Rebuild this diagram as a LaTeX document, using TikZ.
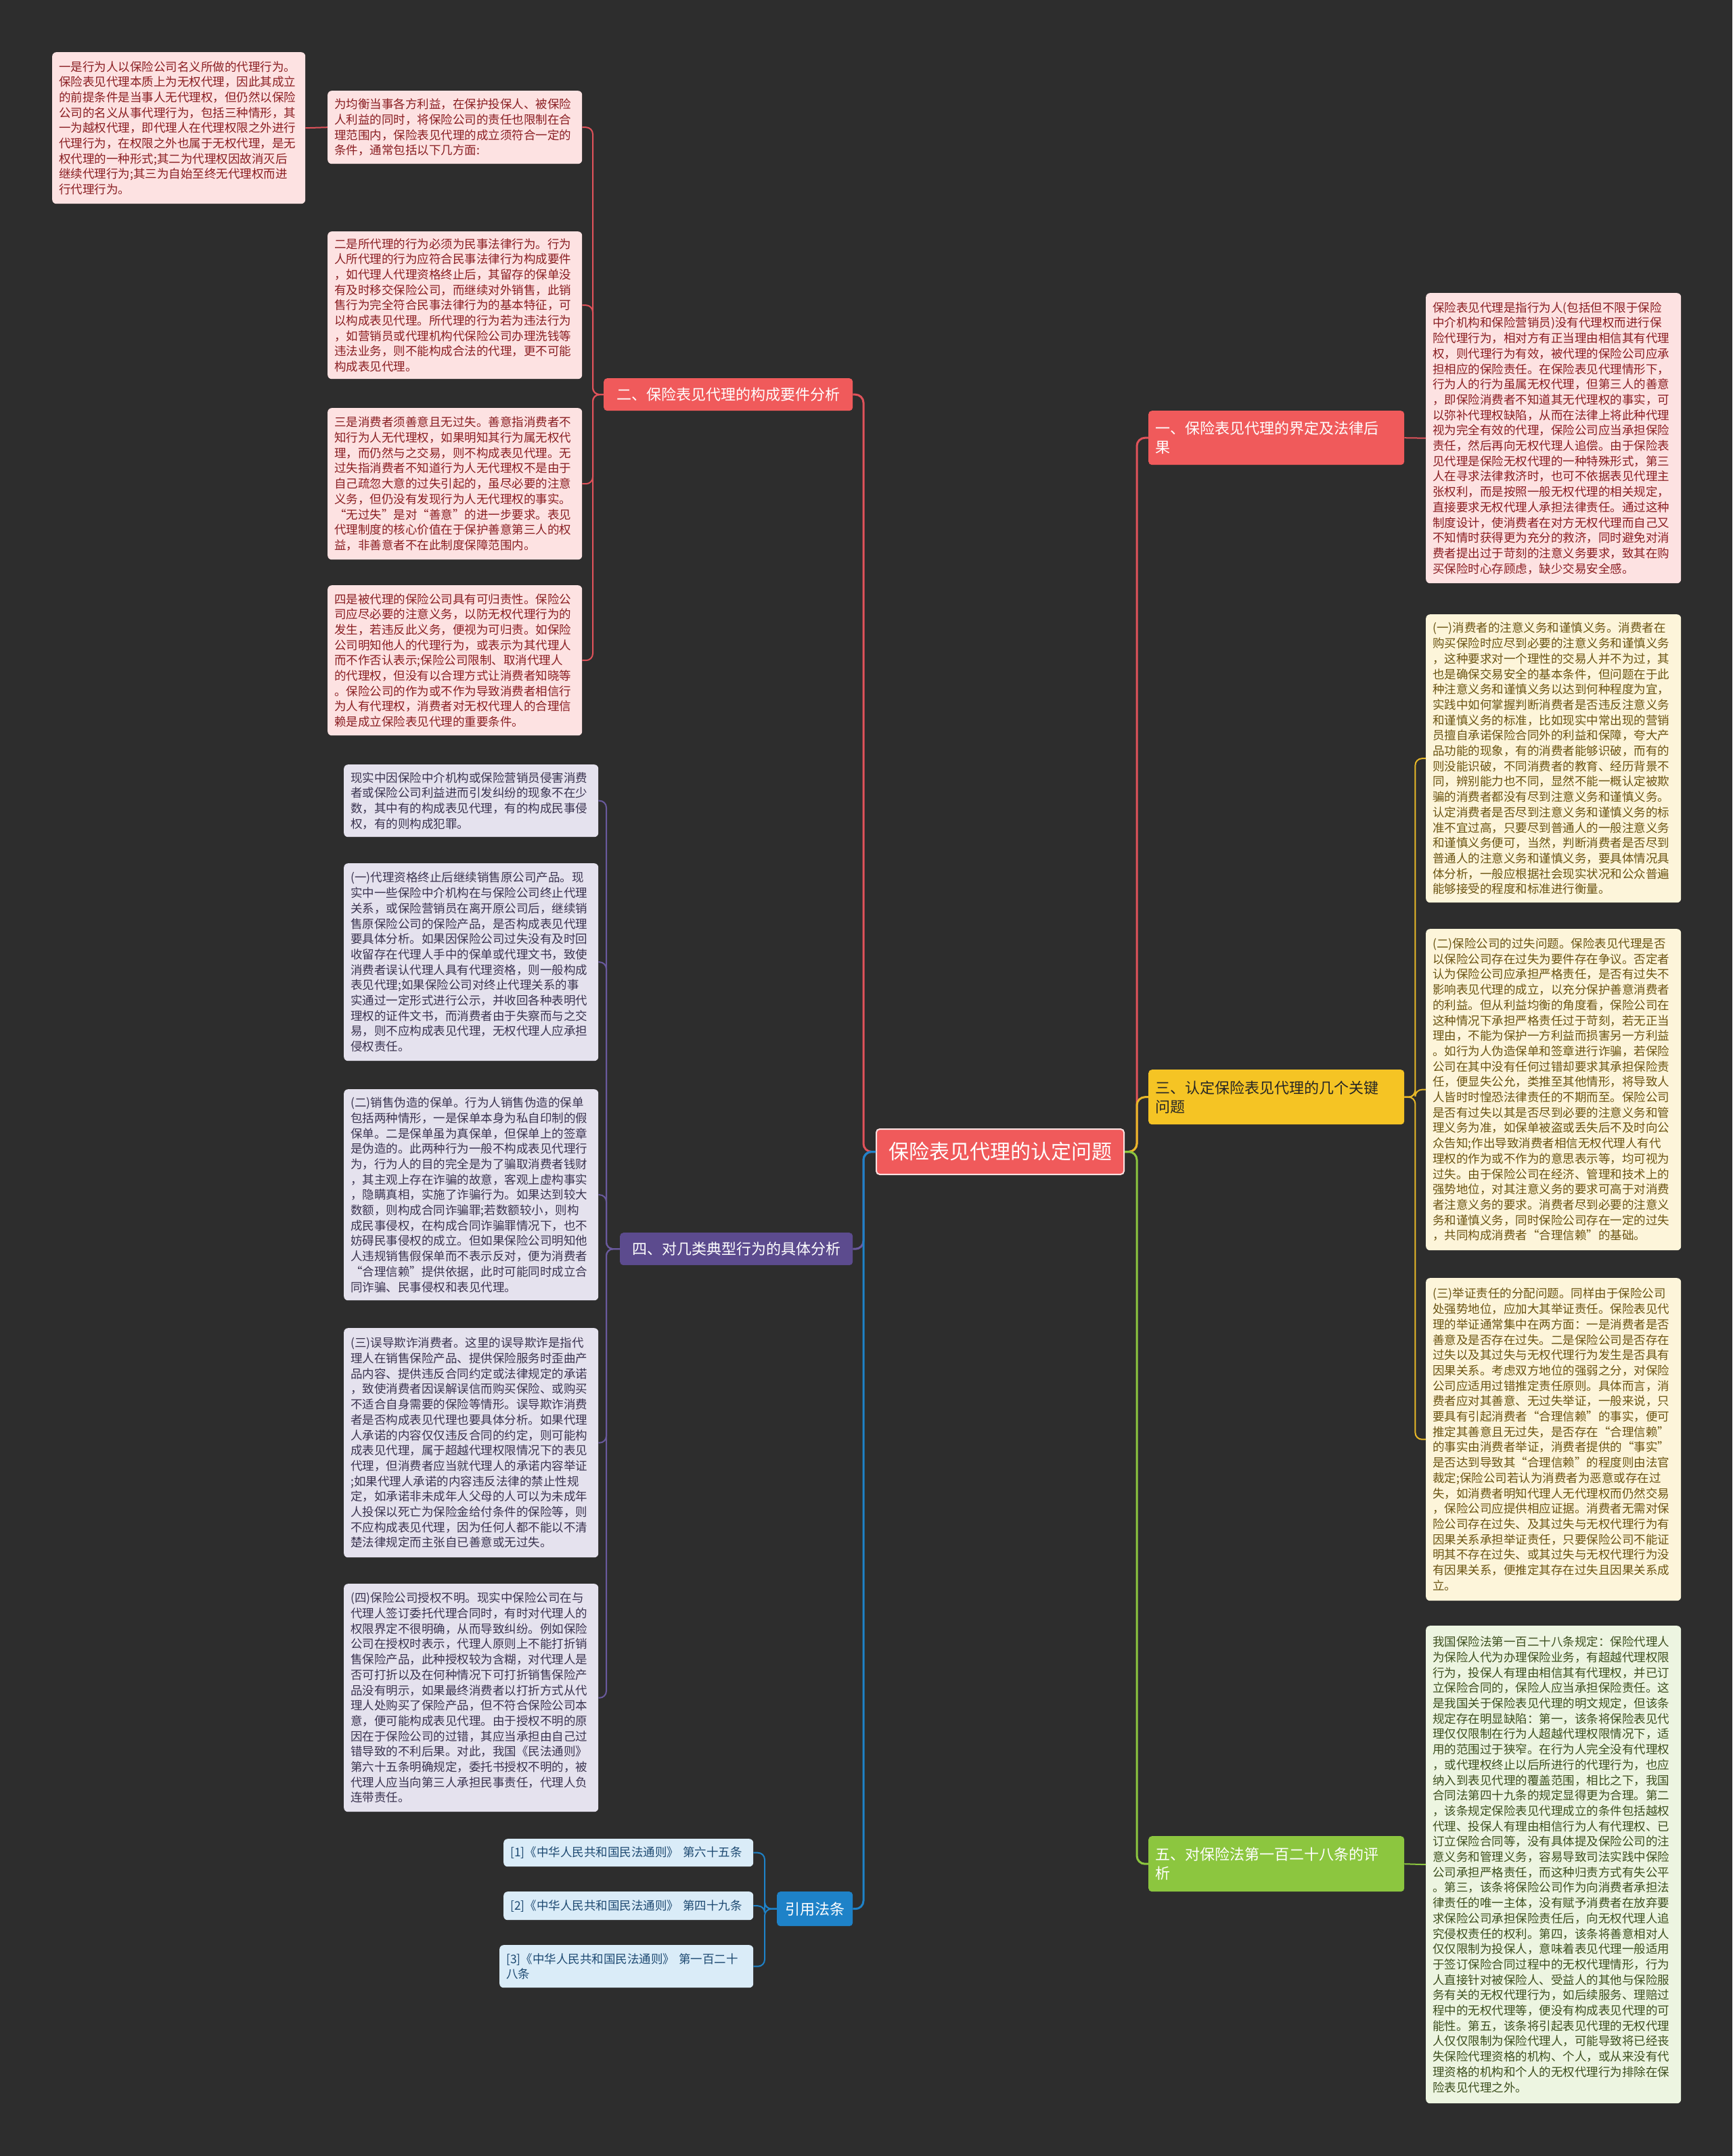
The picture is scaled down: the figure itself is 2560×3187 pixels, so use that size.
\documentclass[tikz,border=0pt]{standalone}
\usepackage{fontspec}
\setmainfont{Noto Sans CJK SC}
\definecolor{bg}{HTML}{2D2D2D}
\definecolor{redB}{HTML}{F05A5B}
\definecolor{redL}{HTML}{FDE2E2}
\definecolor{redT}{HTML}{8A1E22}
\definecolor{redLn}{HTML}{E0525A}
\definecolor{purB}{HTML}{5C4B8E}
\definecolor{purL}{HTML}{E5E2EE}
\definecolor{purT}{HTML}{3A3350}
\definecolor{purLn}{HTML}{6A5A9E}
\definecolor{bluB}{HTML}{1E82C8}
\definecolor{bluL}{HTML}{DAECF8}
\definecolor{bluT}{HTML}{1E4A72}
\definecolor{yelB}{HTML}{F5C424}
\definecolor{yelL}{HTML}{FDF5DA}
\definecolor{yelT}{HTML}{6B5412}
\definecolor{yelLn}{HTML}{E8B828}
\definecolor{grnB}{HTML}{8CC63F}
\definecolor{grnL}{HTML}{EDF5E1}
\definecolor{grnT}{HTML}{3D4F1E}
\begin{document}
\begin{tikzpicture}[x=1pt,y=-1pt,
  box/.style={anchor=north west, rounded corners=6pt, inner xsep=10pt, inner ysep=0pt,
    align=left, text width=356pt, font=\fontsize{17.5}{22.7}\selectfont},
  leafR/.style={box, fill=redL, text=redT},
  leafP/.style={box, fill=purL, text=purT},
  leafB/.style={box, fill=bluL, text=bluT},
  leafY/.style={box, fill=yelL, text=yelT},
  leafG/.style={box, fill=grnL, text=grnT},
  br/.style={anchor=north west, rounded corners=5pt, inner sep=0pt, align=center,
    font=\fontsize{22}{27}\selectfont},
  brtwo/.style={anchor=north west, rounded corners=5pt, inner xsep=10pt, inner ysep=0pt,
    align=left, text width=358pt, font=\fontsize{22}{28}\selectfont},
  main/.style={line width=3pt, rounded corners=12pt},
  sub/.style={line width=2pt, rounded corners=10pt},
]
\useasboundingbox (0,0) rectangle (2560,3187);
\fill[bg] (0,0) rectangle (2560,3187);

% ---------- center ----------
\node[br, fill=redB, draw=redL, line width=2pt, text=white, minimum width=366pt, minimum height=67pt,
  font=\fontsize{30}{36}\selectfont] (ctr) at (1294,1668) {保险表见代理的认定问题};

% ---------- branches ----------
\node[br, fill=redB, text=white, minimum width=368pt, minimum height=48pt] (b2) at (892,559) {二、保险表见代理的构成要件分析};
\node[br, fill=purB, text=white, minimum width=344pt, minimum height=48pt] (b4) at (916,1822) {四、对几类典型行为的具体分析};
\node[br, fill=bluB, text=white, minimum width=112pt, minimum height=51pt] (bc) at (1148,2796) {引用法条};
\node[brtwo, fill=redB, text=white, minimum height=80pt] (b1) at (1697,607) {一、保险表见代理的界定及法律后\\果};
\node[brtwo, fill=yelB, text=black!85, minimum height=81pt] (b3) at (1697,1581) {三、认定保险表见代理的几个关键\\问题};
\node[brtwo, fill=grnB, text=white, minimum height=82pt] (b5) at (1697,2714) {五、对保险法第一百二十八条的评\\析};

% ---------- red left leaves ----------
\node[leafR, text width=354pt, minimum height=224pt] (a0) at (77,77) {一是行为人以保险公司名义所做的代理行为。\\保险表见代理本质上为无权代理，因此其成立\\的前提条件是当事人无代理权，但仍然以保险\\公司的名义从事代理行为，包括三种情形，其\\一为越权代理，即代理人在代理权限之外进行\\代理行为，在权限之外也属于无权代理，是无\\权代理的一种形式;其二为代理权因故消灭后\\继续代理行为;其三为自始至终无代理权而进\\行代理行为。};
\node[leafR, minimum height=108pt] (a1) at (484,134) {为均衡当事各方利益，在保护投保人、被保险\\人利益的同时，将保险公司的责任也限制在合\\理范围内，保险表见代理的成立须符合一定的\\条件，通常包括以下几方面:};
\node[leafR, minimum height=218pt] (a2) at (484,342) {二是所代理的行为必须为民事法律行为。行为\\人所代理的行为应符合民事法律行为构成要件\\，如代理人代理资格终止后，其留存的保单没\\有及时移交保险公司，而继续对外销售，此销\\售行为完全符合民事法律行为的基本特征，可\\以构成表见代理。所代理的行为若为违法行为\\，如营销员或代理机构代保险公司办理洗钱等\\违法业务，则不能构成合法的代理，更不可能\\构成表见代理。};
\node[leafR, minimum height=224pt] (a3) at (484,603) {三是消费者须善意且无过失。善意指消费者不\\知行为人无代理权，如果明知其行为属无权代\\理，而仍然与之交易，则不构成表见代理。无\\过失指消费者不知道行为人无代理权不是由于\\自己疏忽大意的过失引起的，虽尽必要的注意\\义务，但仍没有发现行为人无代理权的事实。\\“无过失”是对“善意”的进一步要求。表见\\代理制度的核心价值在于保护善意第三人的权\\益，非善意者不在此制度保障范围内。};
\node[leafR, minimum height=222pt] (a4) at (484,865) {四是被代理的保险公司具有可归责性。保险公\\司应尽必要的注意义务，以防无权代理行为的\\发生，若违反此义务，便视为可归责。如保险\\公司明知他人的代理行为，或表示为其代理人\\而不作否认表示;保险公司限制、取消代理人\\的代理权，但没有以合理方式让消费者知晓等\\。保险公司的作为或不作为导致消费者相信行\\为人有代理权，消费者对无权代理人的合理信\\赖是成立保险表见代理的重要条件。};

% ---------- purple leaves ----------
\node[leafP, minimum height=107pt] (p1) at (508,1130) {现实中因保险中介机构或保险营销员侵害消费\\者或保险公司利益进而引发纠纷的现象不在少\\数，其中有的构成表见代理，有的构成民事侵\\权，有的则构成犯罪。};
\node[leafP, minimum height=292pt] (p2) at (508,1276) {(一)代理资格终止后继续销售原公司产品。现\\实中一些保险中介机构在与保险公司终止代理\\关系，或保险营销员在离开原公司后，继续销\\售原保险公司的保险产品，是否构成表见代理\\要具体分析。如果因保险公司过失没有及时回\\收留存在代理人手中的保单或代理文书，致使\\消费者误认代理人具有代理资格，则一般构成\\表见代理;如果保险公司对终止代理关系的事\\实通过一定形式进行公示，并收回各种表明代\\理权的证件文书，而消费者由于失察而与之交\\易，则不应构成表见代理，无权代理人应承担\\侵权责任。};
\node[leafP, minimum height=312pt] (p3) at (508,1610) {(二)销售伪造的保单。行为人销售伪造的保单\\包括两种情形，一是保单本身为私自印制的假\\保单。二是保单虽为真保单，但保单上的签章\\是伪造的。此两种行为一般不构成表见代理行\\为，行为人的目的完全是为了骗取消费者钱财\\，其主观上存在诈骗的故意，客观上虚构事实\\，隐瞒真相，实施了诈骗行为。如果达到较大\\数额，则构成合同诈骗罪;若数额较小，则构\\成民事侵权，在构成合同诈骗罪情况下，也不\\妨碍民事侵权的成立。但如果保险公司明知他\\人违规销售假保单而不表示反对，便为消费者\\“合理信赖”提供依据，此时可能同时成立合\\同诈骗、民事侵权和表见代理。};
\node[leafP, minimum height=339pt] (p4) at (508,1963) {(三)误导欺诈消费者。这里的误导欺诈是指代\\理人在销售保险产品、提供保险服务时歪曲产\\品内容、提供违反合同约定或法律规定的承诺\\，致使消费者因误解误信而购买保险、或购买\\不适合自身需要的保险等情形。误导欺诈消费\\者是否构成表见代理也要具体分析。如果代理\\人承诺的内容仅仅违反合同的约定，则可能构\\成表见代理，属于超越代理权限情况下的表见\\代理，但消费者应当就代理人的承诺内容举证\\;如果代理人承诺的内容违反法律的禁止性规\\定，如承诺非未成年人父母的人可以为未成年\\人投保以死亡为保险金给付条件的保险等，则\\不应构成表见代理，因为任何人都不能以不清\\楚法律规定而主张自已善意或无过失。};
\node[leafP, minimum height=337pt] (p5) at (508,2341) {(四)保险公司授权不明。现实中保险公司在与\\代理人签订委托代理合同时，有时对代理人的\\权限界定不很明确，从而导致纠纷。例如保险\\公司在授权时表示，代理人原则上不能打折销\\售保险产品，此种授权较为含糊，对代理人是\\否可打折以及在何种情况下可打折销售保险产\\品没有明示，如果最终消费者以打折方式从代\\理人处购买了保险产品，但不符合保险公司本\\意，便可能构成表见代理。由于授权不明的原\\因在于保险公司的过错，其应当承担由自己过\\错导致的不利后果。对此，我国《民法通则》\\第六十五条明确规定，委托书授权不明的，被\\代理人应当向第三人承担民事责任，代理人负\\连带责任。};

% ---------- blue leaves ----------
\node[leafB, text width=349pt, minimum height=41pt] (c1) at (744,2718) {[1]《中华人民共和国民法通则》 第六十五条};
\node[leafB, text width=349pt, minimum height=42pt] (c2) at (744,2796) {[2]《中华人民共和国民法通则》 第四十九条};
\node[leafB, text width=355pt, minimum height=63pt] (c3) at (738,2875) {[3]《中华人民共和国民法通则》 第一百二十\\八条};

% ---------- right leaves ----------
\node[leafR, text width=357pt, minimum height=429pt] (r1) at (2107,433) {保险表见代理是指行为人(包括但不限于保险\\中介机构和保险营销员)没有代理权而进行保\\险代理行为，相对方有正当理由相信其有代理\\权，则代理行为有效，被代理的保险公司应承\\担相应的保险责任。在保险表见代理情形下，\\行为人的行为虽属无权代理，但第三人的善意\\，即保险消费者不知道其无代理权的事实，可\\以弥补代理权缺陷，从而在法律上将此种代理\\视为完全有效的代理，保险公司应当承担保险\\责任，然后再向无权代理人追偿。由于保险表\\见代理是保险无权代理的一种特殊形式，第三\\人在寻求法律救济时，也可不依据表见代理主\\张权利，而是按照一般无权代理的相关规定，\\直接要求无权代理人承担法律责任。通过这种\\制度设计，使消费者在对方无权代理而自己又\\不知情时获得更为充分的救济，同时避免对消\\费者提出过于苛刻的注意义务要求，致其在购\\买保险时心存顾虑，缺少交易安全感。};
\node[leafY, text width=357pt, minimum height=426pt] (y1) at (2107,908) {(一)消费者的注意义务和谨慎义务。消费者在\\购买保险时应尽到必要的注意义务和谨慎义务\\，这种要求对一个理性的交易人并不为过，其\\也是确保交易安全的基本条件，但问题在于此\\种注意义务和谨慎义务以达到何种程度为宜，\\实践中如何掌握判断消费者是否违反注意义务\\和谨慎义务的标准，比如现实中常出现的营销\\员擅自承诺保险合同外的利益和保障，夸大产\\品功能的现象，有的消费者能够识破，而有的\\则没能识破，不同消费者的教育、经历背景不\\同，辨别能力也不同，显然不能一概认定被欺\\骗的消费者都没有尽到注意义务和谨慎义务。\\认定消费者是否尽到注意义务和谨慎义务的标\\准不宜过高，只要尽到普通人的一般注意义务\\和谨慎义务便可，当然，判断消费者是否尽到\\普通人的注意义务和谨慎义务，要具体情况具\\体分析，一般应根据社会现实状况和公众普遍\\能够接受的程度和标准进行衡量。};
\node[leafY, text width=357pt, minimum height=475pt] (y2) at (2107,1373) {(二)保险公司的过失问题。保险表见代理是否\\以保险公司存在过失为要件存在争议。否定者\\认为保险公司应承担严格责任，是否有过失不\\影响表见代理的成立，以充分保护善意消费者\\的利益。但从利益均衡的角度看，保险公司在\\这种情况下承担严格责任过于苛刻，若无正当\\理由，不能为保护一方利益而损害另一方利益\\。如行为人伪造保单和签章进行诈骗，若保险\\公司在其中没有任何过错却要求其承担保险责\\任，便显失公允，类推至其他情形，将导致人\\人皆时时惶恐法律责任的不期而至。保险公司\\是否有过失以其是否尽到必要的注意义务和管\\理义务为准，如保单被盗或丢失后不及时向公\\众告知;作出导致消费者相信无权代理人有代\\理权的作为或不作为的意思表示等，均可视为\\过失。由于保险公司在经济、管理和技术上的\\强势地位，对其注意义务的要求可高于对消费\\者注意义务的要求。消费者尽到必要的注意义\\务和谨慎义务，同时保险公司存在一定的过失\\，共同构成消费者“合理信赖”的基础。};
\node[leafY, text width=357pt, minimum height=477pt] (y3) at (2107,1889) {(三)举证责任的分配问题。同样由于保险公司\\处强势地位，应加大其举证责任。保险表见代\\理的举证通常集中在两方面：一是消费者是否\\善意及是否存在过失。二是保险公司是否存在\\过失以及其过失与无权代理行为发生是否具有\\因果关系。考虑双方地位的强弱之分，对保险\\公司应适用过错推定责任原则。具体而言，消\\费者应对其善意、无过失举证，一般来说，只\\要具有引起消费者“合理信赖”的事实，便可\\推定其善意且无过失，是否存在“合理信赖”\\的事实由消费者举证，消费者提供的“事实”\\是否达到导致其“合理信赖”的程度则由法官\\裁定;保险公司若认为消费者为恶意或存在过\\失，如消费者明知代理人无代理权而仍然交易\\，保险公司应提供相应证据。消费者无需对保\\险公司存在过失、及其过失与无权代理行为有\\因果关系承担举证责任，只要保险公司不能证\\明其不存在过失、或其过失与无权代理行为没\\有因果关系，便推定其存在过失且因果关系成\\立。};
\node[leafG, text width=357pt, minimum height=706pt] (g1) at (2107,2403) {我国保险法第一百二十八条规定：保险代理人\\为保险人代为办理保险业务，有超越代理权限\\行为，投保人有理由相信其有代理权，并已订\\立保险合同的，保险人应当承担保险责任。这\\是我国关于保险表见代理的明文规定，但该条\\规定存在明显缺陷：第一，该条将保险表见代\\理仅仅限制在行为人超越代理权限情况下，适\\用的范围过于狭窄。在行为人完全没有代理权\\，或代理权终止以后所进行的代理行为，也应\\纳入到表见代理的覆盖范围，相比之下，我国\\合同法第四十九条的规定显得更为合理。第二\\，该条规定保险表见代理成立的条件包括越权\\代理、投保人有理由相信行为人有代理权、已\\订立保险合同等，没有具体提及保险公司的注\\意义务和管理义务，容易导致司法实践中保险\\公司承担严格责任，而这种归责方式有失公平\\。第三，该条将保险公司作为向消费者承担法\\律责任的唯一主体，没有赋予消费者在放弃要\\求保险公司承担保险责任后，向无权代理人追\\究侵权责任的权利。第四，该条将善意相对人\\仅仅限制为投保人，意味着表见代理一般适用\\于签订保险合同过程中的无权代理情形，行为\\人直接针对被保险人、受益人的其他与保险服\\务有关的无权代理行为，如后续服务、理赔过\\程中的无权代理等，便没有构成表见代理的可\\能性。第五，该条将引起表见代理的无权代理\\人仅仅限制为保险代理人，可能导致将已经丧\\失保险代理资格的机构、个人，或从来没有代\\理资格的机构和个人的无权代理行为排除在保\\险表见代理之外。};

% ---------- connectors: center to branches ----------
\begin{scope}[on background layer/.style={}]
\end{scope}
\draw[main, redLn] (ctr.west) -- ++(-18,0) |- (b2.east);
\draw[main, purLn] (ctr.west) -- ++(-18,0) |- (b4.east);
\draw[main, bluB] (ctr.west) -- ++(-18,0) |- (bc.east);
\draw[main, redLn] (ctr.east) -- ++(18,0) |- (b1.west);
\draw[main, yelLn] (ctr.east) -- ++(18,0) |- (b3.west);
\draw[main, grnB] (ctr.east) -- ++(18,0) |- (b5.west);

% ---------- connectors: branches to leaves ----------
\foreach \n in {a1,a2,a3,a4} \draw[sub, redLn] (b2.west) -- ++(-16,0) |- (\n.east);
\draw[sub, redLn] (a1.west) -- (a0.east);
\foreach \n in {p1,p2,p3,p4,p5} \draw[sub, purLn] (b4.west) -- ++(-20,0) |- (\n.east);
\foreach \n in {c1,c2,c3} \draw[sub, bluB] (bc.west) -- ++(-18,0) |- (\n.east);
\draw[sub, redLn] (b1.east) -- (r1.west);
\foreach \n in {y1,y2,y3} \draw[sub, yelLn] (b3.east) -- ++(16,0) |- (\n.west);
\draw[sub, grnB] (b5.east) -- (g1.west);
\end{tikzpicture}
\end{document}
